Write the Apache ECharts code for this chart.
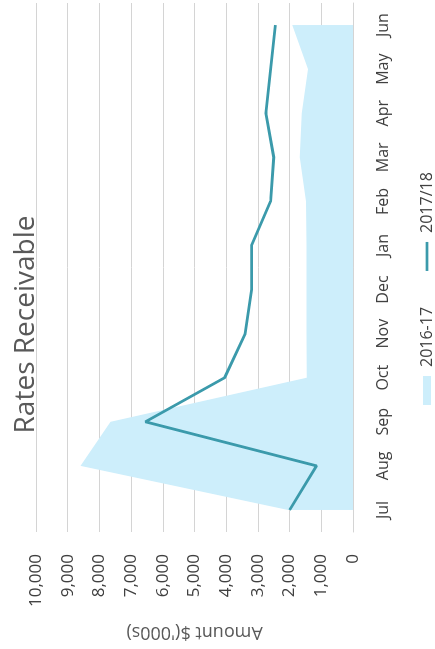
<!DOCTYPE html>
<html>
<head>
<meta charset="utf-8">
<script src="https://cdn.jsdelivr.net/npm/echarts@6/dist/echarts.min.js"></script>
<style>
  html, body { margin: 0; padding: 0; background: #ffffff; width: 435px; height: 649px; overflow: hidden; }
  #chart { position: absolute; left: 0; top: 0; width: 649px; height: 435px;
           transform-origin: 0 0; transform: translate(0px, 649px) rotate(-90deg); }
</style>
</head>
<body>
<div id="chart"></div>
<script>
const months = ['Jul','Aug','Sep','Oct','Nov','Dec','Jan','Feb','Mar','Apr','May','Jun'];
const series2016 = [2050, 8600, 7650, 1460, 1470, 1470, 1470, 1480, 1680, 1620, 1420, 1920];
const series2017 = [2000, 1150, 6550, 4050, 3400, 3200, 3200, 2600, 2500, 2750, 2600, 2450];
const valueTicks = [0, 1000, 2000, 3000, 4000, 5000, 6000, 7000, 8000, 9000, 10000];
const seriesNames = ['2016-17', '2017/18'];

const FONT = '"Open Sans"';
const AREA = '#cdeefb';
const LINE = '#3b9aab';
const chart = echarts.init(document.getElementById('chart'), null, { renderer: 'canvas' });
chart.setOption({
  animation: false,
  backgroundColor: '#ffffff',
  textStyle: { fontFamily: FONT },
  title: {
    text: 'Rates Receivable',
    left: 'center',
    top: 7,
    textStyle: { fontFamily: FONT, fontSize: 28, fontWeight: 'normal', color: '#595959' }
  },
  legend: {
    left: 239,
    top: 414,
    itemGap: 36,
    itemWidth: 29,
    itemHeight: 8,
    textStyle: { fontFamily: FONT, fontSize: 16, color: '#404040', padding: [0, 0, 0, 4] },
    data: [
      { name: seriesNames[0], icon: 'rect' },
      { name: seriesNames[1], icon: 'path://M0,0 H30 V2.8 H0 Z' }
    ]
  },
  grid: { left: 115, right: 3, top: 36, bottom: 82 },
  xAxis: {
    type: 'category',
    data: months,
    boundaryGap: true,
    axisLine: { show: true, lineStyle: { color: '#d4d4d4', width: 1 } },
    axisTick: { show: false },
    axisLabel: { margin: 22, fontFamily: FONT, fontSize: 16, color: '#404040' }
  },
  yAxis: {
    type: 'value',
    min: valueTicks[0],
    max: valueTicks[valueTicks.length - 1],
    interval: 1000,
    name: "Amount $('000s)",
    nameLocation: 'middle',
    nameRotate: 90,
    nameGap: 91,
    nameTextStyle: { fontFamily: FONT, fontSize: 18, color: '#595959' },
    axisLine: { show: false },
    axisTick: { show: false },
    splitLine: { show: true, lineStyle: { color: '#d4d4d4', width: 1 } },
    axisLabel: {
      margin: 22,
      fontFamily: FONT, fontSize: 17, color: '#404040',
      formatter: v => v.toLocaleString('en-US')
    }
  },
  series: [
    {
      name: seriesNames[0],
      type: 'line',
      data: series2016,
      symbol: 'none',
      lineStyle: { width: 0, color: AREA },
      itemStyle: { color: AREA },
      areaStyle: { color: AREA, opacity: 1 },
      z: 1
    },
    {
      name: seriesNames[1],
      type: 'line',
      data: series2017,
      symbol: 'none',
      lineStyle: { width: 2.8, color: LINE },
      itemStyle: { color: LINE },
      z: 3
    }
  ]
});
</script>
</body>
</html>
